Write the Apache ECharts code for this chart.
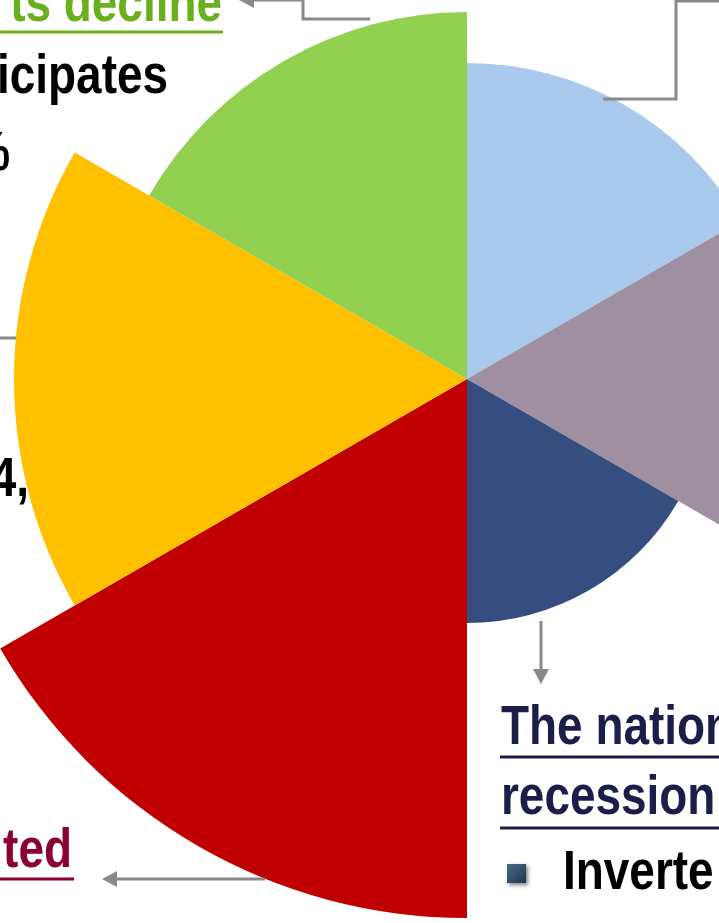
<!DOCTYPE html>
<html>
<head>
<meta charset="utf-8">
<script src="https://cdn.jsdelivr.net/npm/echarts@6/dist/echarts.min.js"></script>
<style>
html, body { margin: 0; padding: 0; background: #fff; }
#chart { width: 719px; height: 923px; }
</style>
</head>
<body>
<div id="chart"></div>
<script>
// slices, clockwise from 12 o'clock
var segments = ['Segment 1', 'Segment 2', 'Segment 3', 'Segment 4', 'Segment 5', 'Segment 6'];
var values = [316, 330, 244, 539, 453, 367];
var colors = ['#A9CAEC', '#9E90A0', '#364D80', '#C00000', '#FFC000', '#92D050'];

// annotation texts (cut off by the frame)
var noteTexts = ['ts decline', 'icipates', '%', '4,', 'ted', 'The nation', 'recession', 'Inverte'];

var FONT_SIZE = 56;
// no Arial Narrow here, so squeeze Liberation Sans horizontally
var NARROW = 0.82;
var FONT = 'bold ' + FONT_SIZE + 'px "Liberation Sans", Arial, sans-serif';
var GRAY = '#898989';

function txt(str, x, baseline, color, align) {
  return {
    type: 'text', z: 10,
    x: x, y: baseline - 0.346 * FONT_SIZE, scaleX: NARROW,
    style: { text: str, x: 0, y: 0, fill: color, font: FONT, align: align, verticalAlign: 'middle' }
  };
}
function line(x1, y1, x2, y2, color, w) {
  return { type: 'line', z: 9, shape: { x1: x1, y1: y1, x2: x2, y2: y2 }, style: { stroke: color, lineWidth: w } };
}
function poly(points) {
  return { type: 'polyline', z: 9, shape: { points: points }, style: { stroke: GRAY, lineWidth: 3, fill: null } };
}
function head(x, y, dir) {
  var pts;
  if (dir === 'left') pts = [[x, y], [x + 15, y - 8], [x + 15, y + 8]];
  else pts = [[x, y], [x - 8, y - 15], [x + 8, y - 15]];
  return { type: 'polygon', z: 9, shape: { points: pts }, style: { fill: GRAY } };
}

var chart = echarts.init(document.getElementById('chart'));
chart.setOption({
  animation: false,
  backgroundColor: '#fff',
  series: [{
    type: 'pie',
    roseType: 'area',
    center: [467, 379],
    radius: [0, 539],
    startAngle: 90,
    clockwise: true,
    silent: true,
    label: { show: false },
    labelLine: { show: false },
    itemStyle: { borderWidth: 0 },
    data: segments.map(function (s, i) {
      return { name: s, value: values[i], itemStyle: { color: colors[i] } };
    })
  }],
  graphic: [
    // connectors
    poly([[370, 19], [303, 19], [303, 0], [252, 0]]),
    head(239, 0, 'left'),
    poly([[603, 99], [676, 99], [676, 1], [725, 1]]),
    line(0, 338, 16, 338, GRAY, 3),
    line(265, 879, 115, 879, GRAY, 3),
    head(102, 879, 'left'),
    line(541, 621, 541, 670, GRAY, 3),
    head(541, 684, 'down'),
    // texts
    txt(noteTexts[0], 222, 25, '#6AAF1E', 'right'),
    line(0, 32, 223, 32, '#6AAF1E', 3),
    txt(noteTexts[1], 168, 97, '#000', 'right'),
    txt(noteTexts[2], 10, 174, '#000', 'right'),
    txt(noteTexts[3], 29, 500, '#000', 'right'),
    txt(noteTexts[4], 72, 871, '#8C0033', 'right'),
    line(0, 879, 74, 879, '#8C0033', 3),
    txt(noteTexts[5], 501, 748, '#1C1E4A', 'left'),
    line(500, 757, 719, 757, '#1C1E4A', 3),
    txt(noteTexts[6], 501, 818, '#1C1E4A', 'left'),
    line(500, 828, 719, 828, '#1C1E4A', 3),
    {
      type: 'rect', z: 10,
      shape: { x: 507, y: 864, width: 19, height: 19 },
      style: {
        fill: new echarts.graphic.LinearGradient(0, 0, 1, 1, [
          { offset: 0, color: '#4A6A88' }, { offset: 1, color: '#1D3550' }
        ]),
        shadowBlur: 4, shadowColor: 'rgba(0,0,0,0.5)', shadowOffsetX: 2, shadowOffsetY: 2
      }
    },
    txt(noteTexts[7], 563, 893, '#000', 'left')
  ]
});
</script>
</body>
</html>
